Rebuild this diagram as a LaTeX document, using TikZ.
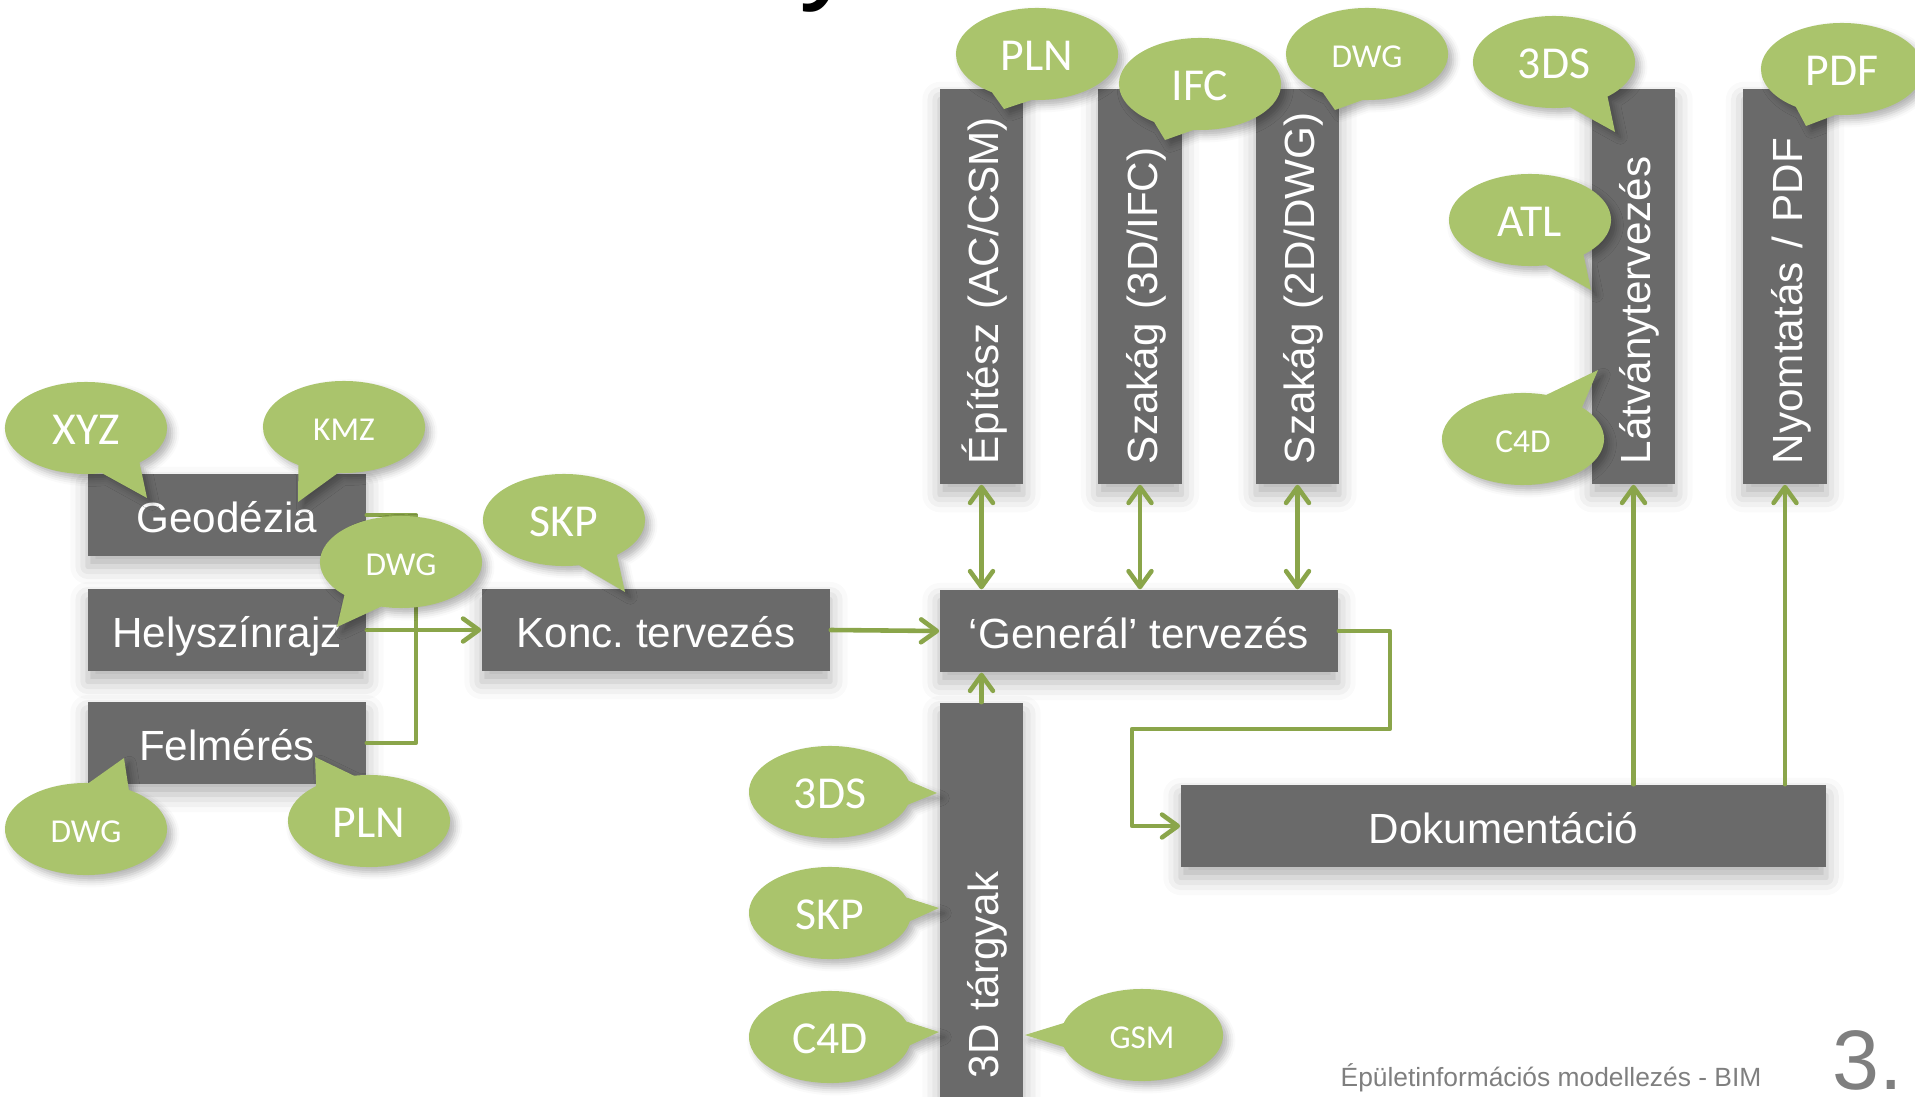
\documentclass[tikz,border=0pt]{standalone}
\usepackage{fontspec}
\setmainfont{Liberation Sans}
\newfontfamily\tagfont{Carlito}
\usetikzlibrary{arrows.meta,shapes.callouts,shadows.blur}
\definecolor{boxgray}{RGB}{106,106,106}
\definecolor{tagfill}{RGB}{170,196,108}
\definecolor{linkgreen}{RGB}{138,165,74}
\definecolor{footgray}{RGB}{127,127,127}
\frenchspacing

\begin{document}
\begin{tikzpicture}[x=0.01cm, y=-0.01cm,
    >={Straight Barb[length=4.5pt,width=6.5pt,round]},
    box/.style={fill=boxgray, text=white, inner sep=0pt,
        font=\fontsize{12}{14}\selectfont, text height=11.3pt, text depth=1.5pt,
        blur shadow={shadow xshift=0pt, shadow yshift=-3pt, shadow opacity=30, shadow blur radius=5pt}},
    hbox/.style={box, minimum height=0.82cm},
    vbar/.style={box, rotate=90, minimum height=0.83cm, text width=3.55cm, inner xsep=0.2cm, align=left},
    tag/.style={ellipse callout, fill=tagfill, text=white, inner sep=0pt,
        minimum width=1.62cm, minimum height=0.92cm, callout pointer arc=30,
        font=\tagfont\fontsize{13}{15}\selectfont, text height=11.5pt, text depth=2.1pt,
        blur shadow={shadow xshift=1.5pt, shadow yshift=-1.5pt, shadow opacity=30, shadow blur radius=2pt}},
    smalltag/.style={tag, font=\tagfont\fontsize{9.5}{11}\selectfont, text height=8.5pt, text depth=1pt},
    link/.style={draw=linkgreen, line width=1.3pt, line cap=round, line join=round}]

    \useasboundingbox (0,0) rectangle (1915,1097);

    \node[anchor=base west, inner sep=0pt, font=\fontsize{34}{40}\selectfont] (title) at (799,-12) {y};

    \node[hbox, minimum width=2.78cm] (geo) at (227,515) {Geodézia};
    \node[hbox, minimum width=2.78cm] (hely) at (227,630) {Helyszínrajz};
    \node[hbox, minimum width=2.78cm] (felm) at (227,743) {Felmérés};
    \node[hbox, minimum width=3.48cm] (konc) at (656,630) {Konc. tervezés};
    \node[hbox, minimum width=3.98cm] (gen) at (1139,631) {‘Generál’ tervezés};
    \node[hbox, minimum width=6.45cm] (dok) at (1503.5,826) {Dokumentáció};

    \node[vbar] (epit) at (981.5,286.5) {Építész (AC/CSM)};
    \node[vbar] (szak3d) at (1140,286.5) {Szakág (3D/IFC)};
    \node[vbar] (szak2d) at (1297.5,286.5) {Szakág (2D/DWG)};
    \node[vbar] (latv) at (1633.5,286.5) {Látványtervezés};
    \node[vbar] (nyomt) at (1785,286.5) {Nyomtatás / PDF};
    \node[vbar] (targy) at (981.5,900.5) {3D tárgyak};

    \draw[link] (geo.east) -- ++(49,0) |- (felm.east);
    \draw[link,->] (hely.east) -- (konc.west);
    \draw[link,->] (konc.east) -- (gen.west);
    \draw[link,<->] (epit.west) -- (epit.west |- gen.north);
    \draw[link,<->] (szak3d.west) -- (szak3d.west |- gen.north);
    \draw[link,<->] (szak2d.west) -- (szak2d.west |- gen.north);
    \draw[link,->] (targy.east) -- (targy.east |- gen.south);
    \draw[link,->] (gen.east) -- ++(51,0) -- ++(0,98) -| ([xshift=-0.48cm]dok.west) -- (dok.west);
    \draw[link,->] (dok.north -| latv.west) -- (latv.west);
    \draw[link,->] (dok.north -| nyomt.west) -- (nyomt.west);

    \node[tag, callout absolute pointer={(147,498)}] (xyz) at (86,428) {XYZ};
    \node[smalltag, callout absolute pointer={(298,502)}] (kmz) at (344,427) {KMZ};
    \node[smalltag, callout absolute pointer={(337,627)}] (dwg1) at (401,562) {DWG};
    \node[tag, callout absolute pointer={(625,592)}] (skp1) at (564,520) {SKP};
    \node[smalltag, callout absolute pointer={(124,758)}] (dwg2) at (86,829) {DWG};
    \node[tag, callout absolute pointer={(315,757)}] (pln1) at (369,821) {PLN};

    \node[tag, callout absolute pointer={(1004,109)}] (pln2) at (1037,54) {PLN};
    \node[tag, callout absolute pointer={(1165,140)}] (ifc) at (1200,84) {IFC};
    \node[smalltag, callout absolute pointer={(1335,110)}] (dwg3) at (1367,54) {DWG};
    \node[tag, callout absolute pointer={(1615,132)}] (tds1) at (1554,62) {3DS};
    \node[tag, callout absolute pointer={(1591,290)}] (atl) at (1530,220) {ATL};
    \node[smalltag, callout absolute pointer={(1598,370)}] (cfd1) at (1523,439) {C4D};
    \node[tag, callout absolute pointer={(1806,126)}] (pdf) at (1842,69) {PDF};

    \node[tag, callout absolute pointer={(937,793)}] (tds2) at (830,792) {3DS};
    \node[tag, callout absolute pointer={(939,908)}] (skp2) at (830,913) {SKP};
    \node[tag, callout absolute pointer={(939,1032)}] (cfd2) at (830,1037) {C4D};
    \node[smalltag, callout absolute pointer={(1025,1035)}] (gsm) at (1142,1035) {GSM};

    \node[anchor=base west, inner sep=0pt, text=footgray, font=\fontsize{7.5}{9}\selectfont] (foot) at (1340,1086) {Épületinformációs modellezés - BIM};
    \node[anchor=base west, inner sep=0pt, text=footgray, font=\fontsize{24}{28}\selectfont] (page) at (1832,1089) {3.};
\end{tikzpicture}
\end{document}
